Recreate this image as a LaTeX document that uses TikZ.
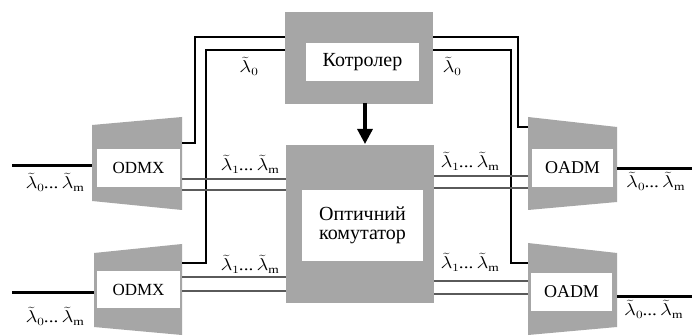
\documentclass[tikz,border=0pt]{standalone}
\usepackage{fontspec}
\usepackage{graphicx}
\setmainfont{Liberation Serif}
\usetikzlibrary{arrows.meta}
\definecolor{boxgray}{HTML}{A6A6A6}
\definecolor{fibgray}{HTML}{5A5A5A}
\newcommand{\lamlab}[2]{\scalebox{1.2}[1]{$\tilde{\lambda}_{#1}$\kern-0.5pt...\,$\tilde{\lambda}_{\mathrm{#2}}$}}
\newcommand{\lamone}[1]{\scalebox{1.2}[1]{$\tilde{\lambda}_{#1}$}}
\begin{document}
\begin{tikzpicture}[x=1pt,y=-1pt,
  graybox/.style={fill=boxgray,draw=none},
  whitebox/.style={fill=white,draw=none,inner sep=0pt,font=\fontsize{17}{20}\selectfont},
  thickfib/.style={line width=3pt,black},
  ctrlfib/.style={line width=2.4pt,black,line join=miter},
  thinfib/.style={line width=1.3pt,fibgray},
  lab/.style={font=\fontsize{16}{18}\selectfont,inner sep=0pt}]
\useasboundingbox (0,0) rectangle (692,336);
\fill[white] (0,0) rectangle (692,336);
% gray shapes
\fill[graybox] (285,12) rectangle (433,104);
\fill[graybox] (286,145) rectangle (434,303);
\fill[graybox] (92,125) -- (182,117) -- (182,210) -- (92,201) -- cycle;
\fill[graybox] (94,253) -- (182,244) -- (182,335) -- (94,327) -- cycle;
\fill[graybox] (528,117) -- (617,127) -- (617,202) -- (528,210) -- cycle;
\fill[graybox] (528,243) -- (617,253) -- (617,327) -- (528,335) -- cycle;
% coordinates on shape edges
\coordinate (ctrlL1) at (285,37);
\coordinate (ctrlL2) at (285,50);
\coordinate (ctrlR1) at (433,37);
\coordinate (ctrlR2) at (433,50);
\coordinate (ctrlB) at (365,103);
\coordinate (swT) at (365,144);
\coordinate (dm1R) at (182,143);
\coordinate (dm2R) at (182,263);
\coordinate (ad1L) at (528,127);
\coordinate (ad2L) at (528,263);
\coordinate (in1) at (12,166);
\coordinate (dm1L) at (92,166);
\coordinate (in2) at (12,292);
\coordinate (dm2L) at (94,292);
\coordinate (ad1R) at (617,169);
\coordinate (out1) at (692,169);
\coordinate (ad2R) at (617,296);
\coordinate (out2) at (692,296);
% white boxes
\node[whitebox,minimum width=113pt,minimum height=38pt] (ctrl) at (362.5,62) {\fontsize{20}{22}\selectfont Котролер};
\node[whitebox,minimum width=121pt,minimum height=71pt,align=center] (sw) at (362.5,225.5) {\fontsize{20}{23}\selectfont Оптичний\\[-1pt]\fontsize{20}{23}\selectfont комутатор};
\node[whitebox,minimum width=83pt,minimum height=38pt] (odmx1) at (138.5,168) {ODMX};
\node[whitebox,minimum width=83pt,minimum height=37pt] (odmx2) at (138.5,289.5) {ODMX};
\node[whitebox,minimum width=81pt,minimum height=38pt,font=\fontsize{18}{20}\selectfont] (oadm1) at (572.5,168) {OADM};
\node[whitebox,minimum width=81pt,minimum height=38pt,font=\fontsize{18}{20}\selectfont] (oadm2) at (571.5,292) {OADM};
% controller fibres
\draw[ctrlfib] (ctrlL1) -| (195,143) -- (dm1R);
\draw[ctrlfib] (ctrlL2) -| (206,263) -- (dm2R);
\draw[ctrlfib] (ctrlR1) -| (518,127) -- (ad1L);
\draw[ctrlfib] (ctrlR2) -| (511,263) -- (ad2L);
% arrow
\draw[line width=3.2pt,-{Triangle[width=15pt,length=15pt]}] (ctrlB) -- (swT);
% thin fibre pairs
\draw[thinfib] (182,179) -- (286,179);
\draw[thinfib] (182,190) -- (286,190);
\draw[thinfib] (182,277) -- (286,277);
\draw[thinfib] (182,291) -- (286,291);
\draw[thinfib] (434,176) -- (528,176);
\draw[thinfib] (434,188) -- (528,188);
\draw[thinfib] (434,281) -- (528,281);
\draw[thinfib] (434,294) -- (528,294);
% thick in/out fibres
\draw[thickfib] (in1) -- (dm1L);
\draw[thickfib] (in2) -- (dm2L);
\draw[thickfib] (ad1R) -- (out1);
\draw[thickfib] (ad2R) -- (out2);
% labels
\node[lab] (l1) at (55,182) {\lamlab{0}{m}};
\node[lab] (l2) at (55,316) {\lamlab{0}{m}};
\node[lab,anchor=west] (l3) at (626,181) {\lamlab{0}{m}};
\node[lab,anchor=west] (l4) at (624,309) {\lamlab{0}{m}};
\node[lab] (l5) at (250,164) {\lamlab{1}{m}};
\node[lab] (l6) at (250,264) {\lamlab{1}{m}};
\node[lab] (l7) at (470,161) {\lamlab{1}{m}};
\node[lab] (l8) at (470,262) {\lamlab{1}{m}};
\node[lab] (l9) at (249,66) {\lamone{0}};
\node[lab] (l10) at (452,66) {\lamone{0}};
\end{tikzpicture}
\end{document}
